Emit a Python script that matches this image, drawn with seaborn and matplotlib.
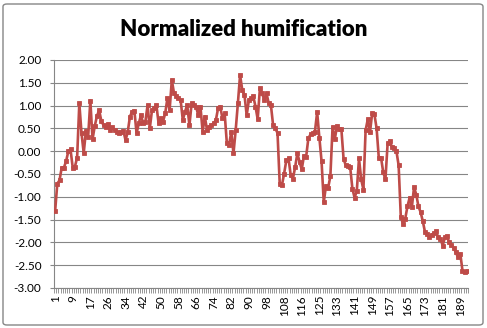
import matplotlib
matplotlib.use("Agg")
import matplotlib.pyplot as plt
import seaborn as sns
import numpy as np
import pandas as pd
from matplotlib.patches import FancyBboxPatch
from matplotlib.ticker import FixedLocator

title = "Normalized humification"

# sample numbers shown on the category axis (a few numbers are missing in the series)
sample_numbers = (list(range(1, 21)) + list(range(22, 100))
                  + list(range(102, 120)) + list(range(121, 193)))

humification = [
    -1.32, -0.71, -0.64, -0.36, -0.36, -0.22, 0.00, 0.04, -0.36, -0.34,
    -0.14, 1.05, 0.39, -0.04, 0.45, 0.31, 1.11, 0.26, 0.55, 0.77,
    0.90, 0.66, 0.57, 0.53, 0.60, 0.47, 0.52, 0.46, 0.43, 0.39,
    0.43, 0.45, 0.24, 0.43, 0.76, 0.87, 0.89, 0.39, 0.61, 0.79,
    0.61, 0.65, 1.01, 0.50, 0.90, 0.94, 1.01, 0.61, 0.72, 0.65,
    0.83, 1.16, 0.90, 1.56, 1.27, 1.21, 1.16, 1.12, 0.68, 0.87,
    1.01, 0.57, 1.05, 1.01, 0.98, 0.79, 0.98, 0.43, 0.76, 0.46,
    0.54, 0.57, 0.61, 0.68, 0.94, 0.98, 0.72, 0.83, 0.17, 0.13,
    0.43, -0.05, 0.46, 1.05, 1.67, 1.34, 1.23, 0.79, 1.12, 1.16,
    1.20, 0.98, 0.70, 1.38, 1.27, 1.12, 1.27, 1.05, 1.01, 0.57,
    0.50, 0.40, -0.71, -0.75, -0.49, -0.20, -0.16, -0.53, -0.60, -0.35,
    -0.05, -0.23, -0.40, -0.10, -0.12, 0.28, 0.37, 0.39, 0.43, 0.86,
    0.30, -0.22, -1.12, -0.76, -0.80, -0.55, 0.53, 0.26, 0.55, 0.48,
    0.48, -0.17, -0.31, -0.33, -0.35, -0.82, -1.02, -0.87, -0.16, -0.62,
    -0.84, 0.46, 0.70, 0.42, 0.84, 0.81, 0.50, -0.15, -0.14, -0.46,
    -0.62, 0.17, 0.22, 0.09, 0.06, 0.00, -0.31, -1.45, -1.59, -1.48,
    -1.21, -1.02, -1.23, -0.79, -0.95, -1.21, -1.34, -1.54, -1.78, -1.81,
    -1.89, -1.83, -1.80, -1.76, -1.89, -1.92, -2.07, -1.89, -1.87, -2.00,
    -2.05, -2.12, -2.22, -2.33, -2.25, -2.62, -2.64, -2.62,
]

y_ticks = [2.0, 1.5, 1.0, 0.5, 0.0, -0.5, -1.0, -1.5, -2.0, -2.5, -3.0]
label_every = 8

sns.set_theme(style="white")
plt.rcParams['font.family'] = ['Lato', 'DejaVu Sans']

W, H = 487, 328
fig = plt.figure(figsize=(W / 100, H / 100), dpi=100)
fig.patch.set_facecolor("white")

# chart-area border
border = FancyBboxPatch((3 / W, 1 - 325 / H), 480 / W, 321 / H,
                        boxstyle="round,pad=0,rounding_size=0.008",
                        transform=fig.transFigure, fill=False,
                        edgecolor="#868686", linewidth=1.0)
fig.patches.append(border)

left, right, top, bottom = 54, 468, 60, 288
ax = fig.add_axes([left / W, 1 - bottom / H, (right - left) / W, (bottom - top) / H])

n = len(sample_numbers)
df = pd.DataFrame({"pos": np.arange(n), "value": humification})
sns.lineplot(data=df, x="pos", y="value", ax=ax, color="#BE4B48",
             linewidth=1.9, marker="s", markersize=3.5,
             markeredgecolor="#BE4B48", markeredgewidth=0.6, zorder=3)

ax.set_xlim(-0.5, n - 0.5)
ax.set_ylim(min(y_ticks), max(y_ticks))
ax.set_yticks(y_ticks)
ax.set_yticklabels([f"{v:.2f}" for v in y_ticks])

major_pos = list(range(0, n, label_every))
ax.xaxis.set_major_locator(FixedLocator(major_pos))
ax.set_xticklabels([str(sample_numbers[p]) for p in major_pos], rotation=90)
ax.xaxis.set_minor_locator(FixedLocator(np.arange(-0.5, n, 1.0)))

ax.set_xlabel("")
ax.set_ylabel("")
ax.yaxis.grid(True, color="#868686", linewidth=0.8)
ax.xaxis.grid(False)
ax.set_axisbelow(True)
for s in ["top", "right"]:
    ax.spines[s].set_visible(False)
for s in ["left", "bottom"]:
    ax.spines[s].set_color("#868686")
    ax.spines[s].set_linewidth(0.8)

ax.tick_params(axis="y", length=3, width=0.8, color="#868686", pad=6,
               labelsize=8.5, labelcolor="black", left=True)
ax.tick_params(axis="x", which="major", length=0, pad=5, labelsize=8.5,
               labelcolor="black")
ax.tick_params(axis="x", which="minor", length=3.5, width=0.6,
               color="#868686", bottom=True)

fig.text(0.5, 1 - 30 / H, title, ha="center", va="center",
         fontsize=16, fontweight="heavy", color="black")

fig.savefig("out.png", dpi=100)
